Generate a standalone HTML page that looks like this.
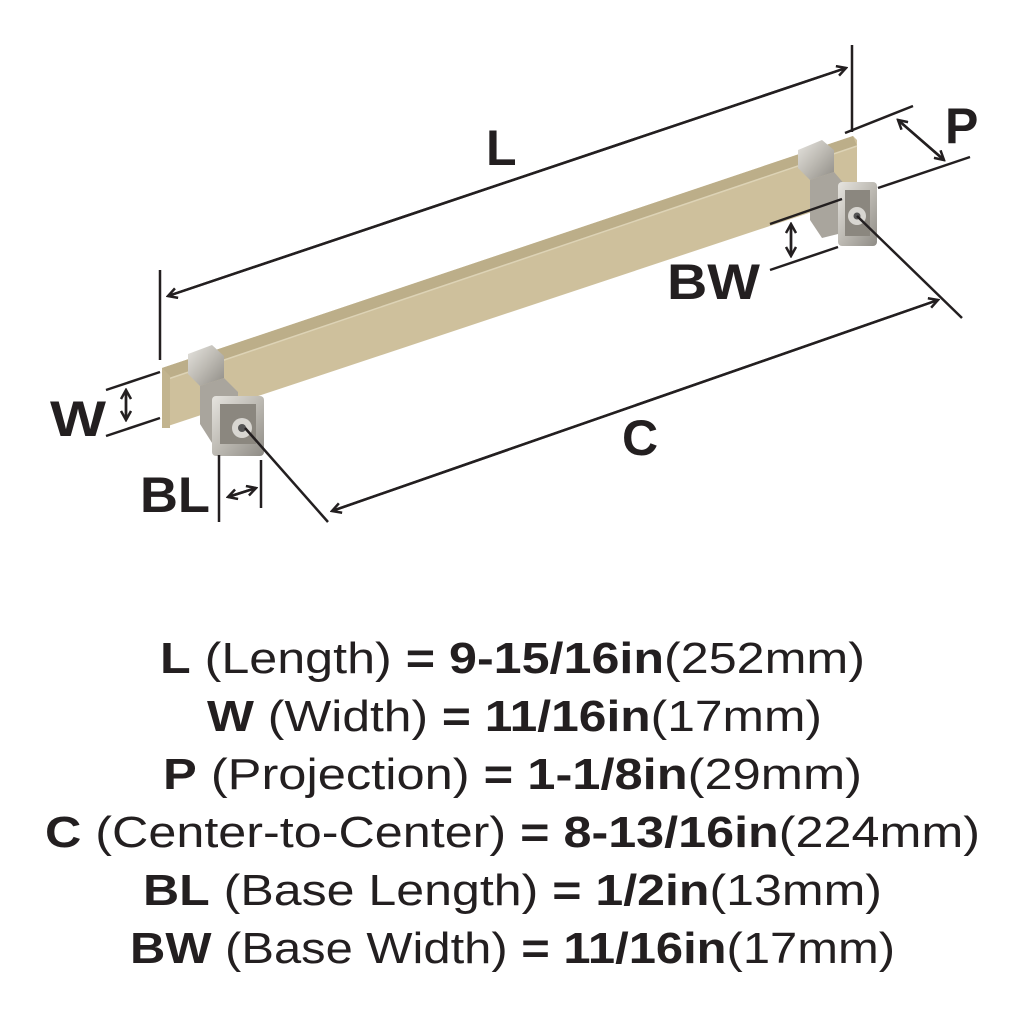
<!DOCTYPE html>
<html><head><meta charset="utf-8"><style>
html,body{margin:0;padding:0;background:#fff}
svg{display:block}
.t{font-family:"Liberation Sans",sans-serif;font-size:44px;fill:#231f20}
.b{font-weight:bold}
</style></head><body>
<svg width="1024" height="1024" viewBox="0 0 1024 1024" xmlns="http://www.w3.org/2000/svg">
<defs>
<linearGradient id="met" x1="0" y1="0" x2="1" y2="1">
<stop offset="0" stop-color="#e6e4df"/><stop offset="0.5" stop-color="#bdbab3"/><stop offset="1" stop-color="#8f8c86"/>
</linearGradient>
<marker id="ah" markerWidth="12" markerHeight="12" refX="10" refY="6" orient="auto" markerUnits="userSpaceOnUse">
<path d="M1,1 L10,6 L1,11" fill="none" stroke="#231f20" stroke-width="2.5"/>
</marker>
</defs>

<polygon points="162,368 853,136 857,140 857,197 162,428" fill="#cec09c"/>
<polygon points="162,368 853,136 857,146 168,379" fill="#bcae89"/>
<line x1="168" y1="379" x2="857" y2="146" stroke="#ddd3b6" stroke-width="1.5"/>
<polygon points="162,368 170,376 170,428 162,428" fill="#c2b48f"/>

<polygon points="188,354 212,345 224,356 224,378 200,386 188,374" fill="url(#met)"/>
<polygon points="200,386 224,378 238,392 238,440 214,446 200,424" fill="#a9a59d"/>
<rect x="212" y="396" width="52" height="60" rx="4" fill="url(#met)"/>
<rect x="220" y="404" width="36" height="40" fill="#8b877f"/>
<circle cx="242" cy="428" r="10" fill="#d8d6d1"/>
<circle cx="242" cy="428" r="4" fill="#555"/>

<polygon points="798,150 822,140 834,150 834,172 810,180 798,168" fill="url(#met)"/>
<polygon points="810,180 834,172 846,186 846,232 822,238 810,220" fill="#a9a59d"/>
<rect x="838" y="182" width="39" height="64" rx="4" fill="url(#met)"/>
<rect x="845" y="190" width="25" height="46" fill="#8b877f"/>
<circle cx="857" cy="216" r="9" fill="#d8d6d1"/>
<circle cx="857" cy="216" r="3.5" fill="#555"/>

<g stroke="#231f20" stroke-width="2.5" fill="none">
<line x1="160" y1="270" x2="160" y2="360"/>
<line x1="852" y1="45" x2="852" y2="132"/>
<line x1="168" y1="296" x2="846" y2="68" marker-end="url(#ah)"/>
<line x1="846" y1="68" x2="168" y2="296" marker-end="url(#ah)"/>
<line x1="845" y1="133" x2="913" y2="106"/>
<line x1="878" y1="188" x2="970" y2="157"/>
<line x1="898" y1="120" x2="944" y2="160" marker-end="url(#ah)"/>
<line x1="944" y1="160" x2="898" y2="120" marker-end="url(#ah)"/>
<line x1="770" y1="224" x2="842" y2="199"/>
<line x1="770" y1="270" x2="838" y2="247"/>
<line x1="791" y1="224" x2="791" y2="256" marker-end="url(#ah)"/>
<line x1="791" y1="256" x2="791" y2="224" marker-end="url(#ah)"/>
<line x1="245" y1="428" x2="328" y2="522"/>
<line x1="857" y1="216" x2="962" y2="318"/>
<line x1="332" y1="511" x2="938" y2="300" marker-end="url(#ah)"/>
<line x1="938" y1="300" x2="332" y2="511" marker-end="url(#ah)"/>
<line x1="106" y1="390" x2="160" y2="372"/>
<line x1="106" y1="436" x2="160" y2="418"/>
<line x1="126" y1="390" x2="126" y2="420" marker-end="url(#ah)"/>
<line x1="126" y1="420" x2="126" y2="390" marker-end="url(#ah)"/>
<line x1="219" y1="455" x2="219" y2="522"/>
<line x1="261" y1="460" x2="261" y2="508"/>
<line x1="228" y1="497" x2="256" y2="488" marker-end="url(#ah)"/>
<line x1="256" y1="488" x2="228" y2="497" marker-end="url(#ah)"/>
</g>

<g class="t b" style="font-size:50px">
<text x="486" y="165">L</text>
<text x="945" y="143">P</text>
<text x="667" y="299" textLength="93" lengthAdjust="spacingAndGlyphs">BW</text>
<text x="622" y="455">C</text>
<text x="50" y="436" textLength="56" lengthAdjust="spacingAndGlyphs">W</text>
<text x="140" y="512" textLength="70" lengthAdjust="spacingAndGlyphs">BL</text>
</g>

<g class="t">
<text x="160" y="673" textLength="705" lengthAdjust="spacingAndGlyphs"><tspan class="b">L</tspan> (Length) <tspan class="b">= 9-15/16in</tspan>(252mm)</text>
<text x="207" y="731" textLength="615" lengthAdjust="spacingAndGlyphs"><tspan class="b">W</tspan> (Width) <tspan class="b">= 11/16in</tspan>(17mm)</text>
<text x="163" y="789" textLength="699" lengthAdjust="spacingAndGlyphs"><tspan class="b">P</tspan> (Projection) <tspan class="b">= 1-1/8in</tspan>(29mm)</text>
<text x="45" y="847" textLength="935" lengthAdjust="spacingAndGlyphs"><tspan class="b">C</tspan> (Center-to-Center) <tspan class="b">= 8-13/16in</tspan>(224mm)</text>
<text x="143" y="905" textLength="739" lengthAdjust="spacingAndGlyphs"><tspan class="b">BL</tspan> (Base Length) <tspan class="b">= 1/2in</tspan>(13mm)</text>
<text x="130" y="963" textLength="765" lengthAdjust="spacingAndGlyphs"><tspan class="b">BW</tspan> (Base Width) <tspan class="b">= 11/16in</tspan>(17mm)</text>
</g>
</svg>
</body></html>
